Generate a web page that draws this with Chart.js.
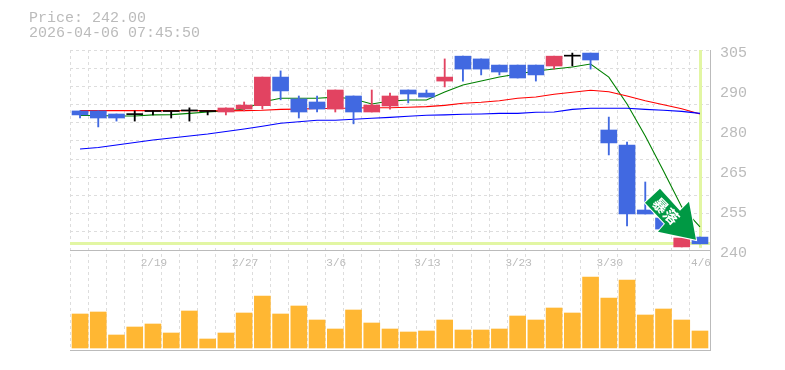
<!DOCTYPE html>
<html lang="ja">
<head>
  <meta charset="UTF-8">
  <title>Price</title>
  <script src="https://cdn.jsdelivr.net/npm/chart.js"></script>
  <style>
    body {
      margin: 0;
      background: #fff;
      overflow: hidden;
    }
    #head {
      position: absolute;
      left: 29px;
      top: 11px;
      font: 15px/15px 'Liberation Mono', monospace;
      color: #bbb;
      white-space: pre;
    }
    canvas {
      display: block;
    }
  </style>
</head>
<body>
  <div id="head">Price: 242.00
2026-04-06 07:45:50</div>
  <canvas id="chart" width="785" height="370"></canvas>

  <script>
    const categories = ["2/13","2/16","2/17","2/18","2/19","2/20","2/24","2/25","2/26","2/27","3/2","3/3","3/4","3/5","3/6","3/9","3/10","3/11","3/12","3/13","3/16","3/17","3/18","3/19","3/23","3/24","3/25","3/26","3/27","3/30","3/31","4/1","4/2","4/3","4/6"];

    const open = [285.2,285.2,284.2,284.0,285.0,285.0,285.2,285.0,284.85,285.8,286.9,296.2,289.1,288.1,285.8,290.05,284.85,286.8,292.0,291.0,294.9,303.0,302.1,300.1,300.1,300.1,299.8,303.0,304.0,279.0,274.1,253.0,250.4,241.0,244.2];
    const close = [283.9,282.9,282.9,284.0,285.0,285.0,285.2,285.0,286.15,287.1,296.2,291.7,284.85,285.8,292.0,284.85,287.1,290.05,290.7,289.7,296.2,298.8,298.8,297.85,295.9,296.9,303.0,303.0,301.75,274.8,251.7,251.7,246.8,243.9,242.0];
    const high = [285.2,285.2,284.2,285.2,285.2,285.0,286.2,285.0,286.2,288.1,296.2,298.2,290.05,290.05,292.0,290.05,292.0,291.0,292.0,292.0,302.1,303.0,302.1,300.1,300.1,300.1,303.0,304.0,304.0,283.2,275.1,262.1,250.4,243.9,244.2];
    const low = [282.9,280.0,281.9,281.9,283.9,282.9,281.9,283.9,283.9,285.2,285.8,288.8,282.9,284.85,284.85,281.0,284.85,285.8,287.8,289.7,293.0,294.9,296.9,296.9,295.9,294.9,298.8,299.8,298.8,270.9,247.8,251.7,246.8,241.0,242.0];

    const maShort = [283.7,283.7,283.55,283.55,283.9,284.0,284.4,284.85,285.2,285.8,288.1,289.3,289.3,289.3,289.7,289.1,287.45,288.4,288.75,288.75,291.35,293.6,294.9,296.2,297.2,298.2,298.8,299.5,300.45,296.2,287.45,277.05,265.7,254.0,247.5];
    const maMid = [285.3,285.3,285.3,285.3,285.3,285.3,285.3,285.3,285.2,285.3,285.4,285.7,285.8,286.0,286.0,286.15,286.25,286.25,286.4,286.6,287.0,287.7,288.0,288.5,289.3,289.7,290.6,291.25,291.9,291.45,290.05,288.5,287.2,285.9,284.2];
    const maLong = [272.8,273.3,274.1,274.95,275.75,276.4,277.05,277.7,278.5,279.3,280.2,281.2,281.7,282.15,282.15,282.5,282.8,283.1,283.45,283.8,283.9,284.1,284.2,284.4,284.4,284.75,284.85,285.7,286.05,286.05,286.05,285.7,285.4,285.05,284.4];

    const volume = [34,36,13,21,24,15,37,9,15,35,52,34,42,28,19,38,25,19,16,17,28,18,18,19,32,28,40,35,71,50,68,33,39,28,17];

    const priceTicks = [305,292,279,266,253,240];
    const priceLabels = ["305","290","280","265","255","240"];
    const currentPrice = 242;

    const RED = "#e24361";
    const BLUE = "#4169e1";
    const MARK = "#e2f6a3";

    // 現在値の十字線
    const crossLines = {
      id: "crossLines",
      beforeDatasetsDraw(chart) {
        const { ctx, chartArea, scales } = chart;
        const y = scales.price.getPixelForValue(currentPrice);
        const x = scales.x.getPixelForValue(categories.length - 1);
        ctx.save();
        ctx.fillStyle = MARK;
        ctx.fillRect(chartArea.left, Math.round(y) - 2, chartArea.width, 3);
        ctx.fillRect(Math.round(x) - 1, chartArea.top, 3, y + 4 - chartArea.top);
        ctx.restore();
      }
    };

    // 暴落の矢印
    const crashArrow = {
      id: "crashArrow",
      afterDatasetsDraw(chart) {
        const { ctx, scales } = chart;
        const tipX = scales.x.getPixelForValue(categories.length - 1) - 4;
        const tipY = scales.price.getPixelForValue(currentPrice) - 4;
        const shape = [[-36,-51],[-51,-37],[-31,-16],[-38,-8],[0,0],[-7,-38],[-16,-29]];
        ctx.save();
        ctx.translate(tipX, tipY);
        ctx.beginPath();
        shape.forEach((p, i) => i ? ctx.lineTo(p[0], p[1]) : ctx.moveTo(p[0], p[1]));
        ctx.closePath();
        ctx.lineWidth = 2;
        ctx.strokeStyle = "#fff";
        ctx.stroke();
        ctx.fillStyle = "#009944";
        ctx.fill();
        ctx.translate(-30, -29);
        ctx.rotate(Math.PI / 4);
        ctx.fillStyle = "#fff";
        ctx.font = "bold 15px 'Noto Sans CJK JP'";
        ctx.textAlign = "center";
        ctx.textBaseline = "middle";
        ctx.fillText("暴落", 0, 0);
        ctx.restore();
      }
    };

    const candleColor = open.map((o, i) => o === close[i] ? "#000" : (close[i] > o ? RED : BLUE));

    function maDataset(data, color) {
      return {
        type: "line",
        data: data,
        yAxisID: "price",
        borderColor: color,
        borderWidth: 1.1,
        pointRadius: 0,
        tension: 0,
        order: 3
      };
    }

    new Chart(document.getElementById("chart"), {
      type: "bar",
      data: {
        labels: categories.map((c, i) => i),
        datasets: [
          maDataset(maLong, "#0000ff"),
          maDataset(maMid, "#ff0000"),
          maDataset(maShort, "#008000"),
          {
            data: low.map((v, i) => [v, high[i]]),
            yAxisID: "price",
            backgroundColor: candleColor,
            barThickness: 1.2,
            grouped: false,
            order: 2
          },
          {
            data: open.map((v, i) => [v, close[i]]),
            yAxisID: "price",
            backgroundColor: candleColor,
            barThickness: 16,
            minBarLength: 1,
            grouped: false,
            order: 1
          },
          {
            data: volume,
            yAxisID: "vol",
            backgroundColor: "#ffb733",
            barThickness: 16,
            grouped: false,
            order: 1
          }
        ]
      },
      options: {
        responsive: false,
        animation: false,
        layout: { padding: { left: 70, top: 50, right: 0, bottom: 20 } },
        plugins: { legend: { display: false }, tooltip: { enabled: false } },
        scales: {
          x: {
            type: "linear",
            position: { vol: 98 },
            offset: false,
            min: -0.55,
            max: 34.55,
            afterBuildTicks(scale) {
              // 罫線は足と足の境目に引く
              scale.ticks = categories.map((c, i) => ({ value: i - 0.55 }));
            },
            grid: { offset: false, color: "#ddd", drawTicks: false },
            border: { color: "#bbb", dash: [3, 3] },
            ticks: {
              autoSkip: false,
              maxRotation: 0,
              padding: 6,
              labelOffset: 11,
              color: "#bbb",
              font: { family: "'Liberation Mono'", size: 11 },
              callback(value) {
                const index = Math.round(value + 0.55);
                return index % 5 === 4 ? categories[index] : "";
              }
            }
          },
          price: {
            position: "right",
            stack: "main",
            stackWeight: 2,
            min: 240,
            max: 305,
            afterFit(scale) { scale.width = 75; },
            afterBuildTicks(scale) {
              const ticks = [];
              for (let i = 0; i <= 11; i++) ticks.push({ value: 305 - i * 65 / 11 });
              priceTicks.slice(1, 5).forEach(v => ticks.push({ value: v }));
              scale.ticks = ticks;
            },
            grid: {
              drawTicks: false,
              color: ctx => priceTicks.slice(1, 5).includes(ctx.tick.value) ? "transparent" : "#ddd"
            },
            border: { color: "#bbb", dash: [3, 3] },
            ticks: {
              autoSkip: false,
              padding: 10,
              labelOffset: 3,
              color: "#bbb",
              font: { family: "'Liberation Mono'", size: 15 },
              callback(value) {
                const i = priceTicks.indexOf(value);
                return i < 0 ? "" : priceLabels[i];
              }
            }
          },
          vol: {
            position: "right",
            stack: "main",
            stackWeight: 1,
            min: -2,
            max: 98,
            afterFit(scale) { scale.width = 75; },
            afterBuildTicks(scale) {
              scale.ticks = [{ value: -2 }];
            },
            grid: { drawTicks: false, color: "#bbb" },
            border: { color: "#bbb" },
            ticks: { color: "transparent", padding: 10 }
          }
        }
      },
      plugins: [crossLines, crashArrow]
    });
  </script>
</body>
</html>
